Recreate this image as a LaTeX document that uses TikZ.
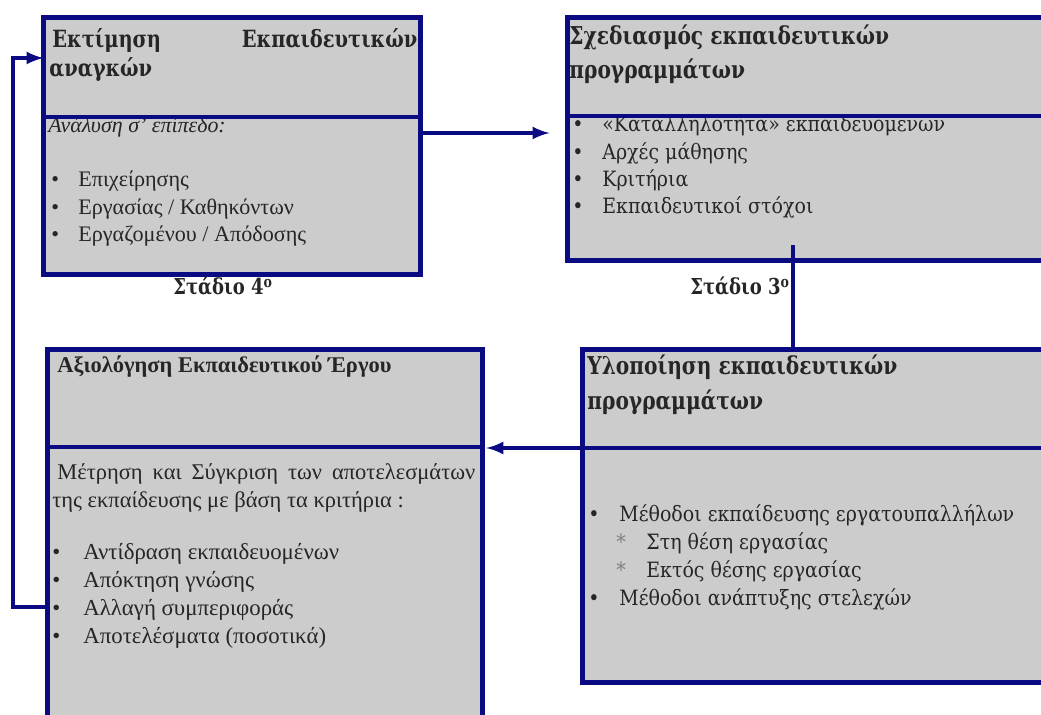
\documentclass[tikz,border=0pt]{standalone}
\usepackage{fontspec}
\setmainfont{Liberation Serif}
\newfontfamily\cambria[FakeStretch=0.9]{DejaVu Serif}
\newfontfamily\cambriab[FakeStretch=0.82]{DejaVu Serif}
\usetikzlibrary{arrows}
\definecolor{navy}{RGB}{10,10,130}
\definecolor{boxgray}{RGB}{204,204,204}
\tikzstyle{box}=[rectangle, draw=navy, fill=boxgray, line width=0.1cm, outer sep=0pt, inner sep=0pt, anchor=north west]
\tikzstyle{divider}=[draw=navy, line width=0.08cm]
\tikzstyle{link}=[draw=navy, line width=0.08cm]
\tikzstyle{edge}=[link, -latex]
\tikzstyle{txt}=[inner sep=0pt, anchor=base west, text=black!85]
\tikzstyle{stage}=[inner sep=0pt, anchor=base west, text=black!85, font=\cambriab\bfseries\fontsize{12.5}{15}\selectfont]
\newcommand{\itm}[2][0.5cm]{\makebox[#1][l]{•}#2\par}
\newcommand{\subitm}[1]{\hspace*{0.56cm}\makebox[0.6cm][l]{\textcolor{black!50}{*}}#1\par}

\begin{document}
\begin{tikzpicture}[x=0.02cm, y=-0.02cm]
	\useasboundingbox (0,0) rectangle (1041,715);
	\clip (0,0) rectangle (1041,715);
	%% boxes
	\draw (43.5,17.5) node[box, minimum width=7.54cm, minimum height=5.14cm] (needs) {};
	\draw (567.5,17.5) node[box, minimum width=9.65cm, minimum height=4.86cm] (design) {};
	\draw (582.5,349.5) node[box, minimum width=9.35cm, minimum height=6.66cm] (impl) {};
	\draw (47.5,349.5) node[box, minimum width=8.7cm, minimum height=7.81cm] (evalb) {};
	%%%%%% stage 4
	\draw (49,48) node[txt] (needsH) {\parbox[t]{7.36cm}{\cambriab\bfseries\fontsize{13.5}{16.5}\selectfont
		\hspace*{0.06cm}Εκτίμηση\hfill Εκπαιδευτικών\\αναγκών}};
	\draw (48,133) node[txt] (needsA) {\fontsize{12.5}{15}\selectfont\itshape Ανάλυση σ’ επίπεδο:};
	\draw (51,187) node[txt] (needsL) {\parbox[t]{7cm}{\fontsize{12.6}{15.65}\selectfont
		\itm[0.54cm]{Επιχείρησης}
		\itm[0.54cm]{Εργασίας / Καθηκόντων}
		\itm[0.54cm]{Εργαζομένου / Απόδοσης}}};
	\draw (173,295) node[stage] (st4) {Στάδιο 4\textsuperscript{ο}};
	%%%%%% stage 3
	\draw (569,45) node[txt] (designH) {\parbox[t]{9cm}{\cambriab\bfseries\fontsize{14}{18.8}\selectfont
		Σχεδιασμός εκπαιδευτικών\\προγραμμάτων}};
	\draw (572,132) node[txt] (designL) {\parbox[t]{9cm}{\cambria\fontsize{12}{15.4}\selectfont
		\itm[0.6cm]{«Καταλληλότητα» εκπαιδευομένων}
		\itm[0.6cm]{Αρχές μάθησης}
		\itm[0.6cm]{Κριτήρια}
		\itm[0.6cm]{Εκπαιδευτικοί στόχοι}}};
	\draw (690,295) node[stage] (st3) {Στάδιο 3\textsuperscript{ο}};
	%%%%%% implementation
	\draw (587,375) node[txt] (implH) {\parbox[t]{9cm}{\cambriab\bfseries\fontsize{14}{19.9}\selectfont
		Υλοποίηση εκπαιδευτικών\\προγραμμάτων}};
	\draw (588,522) node[txt] (implL) {\parbox[t]{9cm}{\cambria\fontsize{12}{15.8}\selectfont
		\itm[0.62cm]{Μέθοδοι εκπαίδευσης εργατουπαλλήλων}
		\subitm{Στη θέση εργασίας}
		\subitm{Εκτός θέσης εργασίας}
		\itm[0.62cm]{Μέθοδοι ανάπτυξης στελεχών}}};
	%%%%%% evaluation
	\draw (57,373) node[txt] (evalH) {\fontsize{12.8}{14}\selectfont\bfseries Αξιολόγηση Εκπαιδευτικού Έργου};
	\draw (52,480) node[txt] (evalP) {\parbox[t]{8.6cm}{\fontsize{12.8}{15.4}\selectfont
		\hspace*{0.1cm}\makebox[8.36cm][s]{Μέτρηση και Σύγκριση των αποτελεσμάτων}\par
		της εκπαίδευσης με βάση τα κριτήρια :}};
	\draw (52,560) node[txt] (evalL) {\parbox[t]{8.6cm}{\fontsize{13}{15.8}\selectfont
		\itm[0.62cm]{Αντίδραση εκπαιδευομένων}
		\itm[0.62cm]{Απόκτηση γνώσης}
		\itm[0.62cm]{Αλλαγή συμπεριφοράς}
		\itm[0.62cm]{Αποτελέσματα (ποσοτικά)}}};
	%%%%%% dividers
	\draw[divider] (needs.west |- 0,117) -- (needs.east |- 0,117);
	\draw[divider] (design.west |- 0,116) -- (design.east |- 0,116);
	\draw[divider] (impl.west |- 0,448) -- (impl.east |- 0,448);
	\draw[divider] (evalb.west |- 0,447) -- (evalb.east |- 0,447);
	%%%%%% connectors
	\coordinate (dtail) at (793,245);
	\coordinate (fb) at (13,58);
	\draw[edge, shorten >=0.36cm] (needs.east |- 0,133) -- (design.west |- 0,133);
	\draw[link] (dtail) -- (dtail |- impl.north);
	\draw[edge, shorten >=0.08cm] (impl.west |- 0,448) -- (evalb.east |- 0,448);
	\draw[edge] (evalb.west |- 0,607) -| (fb) -- (needs.west |- fb);
\end{tikzpicture}
\end{document}
